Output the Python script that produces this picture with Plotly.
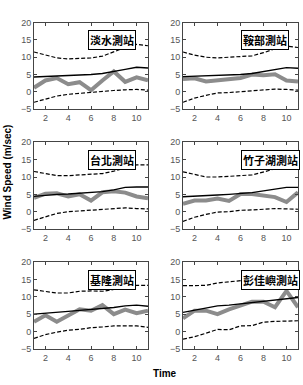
import plotly.graph_objects as go

x_time = [1, 2, 3, 4, 5, 6, 7, 8, 9, 10, 11]
stations = ["淡水測站", "鞍部測站", "台北測站", "竹子湖測站", "基隆測站", "彭佳嶼測站"]

upper = [
    [11.5, 10.7, 9.8, 9.5, 9.7, 9.8, 10.3, 11.5, 12.8, 13.7, 13.3],
    [11.5, 10.6, 10.0, 9.8, 10.0, 10.1, 10.4, 11.3, 12.4, 13.2, 12.8],
    [11.6, 11.0, 10.4, 10.4, 10.6, 10.6, 11.0, 11.7, 12.7, 13.5, 13.5],
    [11.5, 10.7, 10.0, 10.0, 10.3, 10.4, 10.6, 11.5, 12.5, 13.2, 12.9],
    [12.0, 11.5, 11.1, 11.1, 11.6, 11.7, 11.6, 12.1, 12.8, 13.3, 13.3],
    [13.2, 13.2, 13.3, 14.0, 14.3, 14.6, 14.9, 15.2, 15.6, 16.0, 16.3],
]
mean = [
    [4.3, 4.4, 4.5, 4.6, 4.8, 5.0, 5.3, 5.8, 6.5, 7.1, 6.9],
    [4.4, 4.5, 4.6, 4.7, 4.9, 5.0, 5.3, 5.9, 6.6, 7.0, 6.8],
    [4.4, 4.8, 5.0, 5.1, 5.3, 5.5, 5.8, 6.3, 7.0, 7.1, 7.1],
    [4.3, 4.4, 4.6, 4.8, 5.0, 5.2, 5.5, 6.0, 6.6, 7.0, 7.0],
    [5.0, 5.2, 5.5, 5.8, 6.1, 6.3, 6.6, 6.9, 7.4, 7.6, 7.3],
    [5.5, 6.1, 6.8, 7.4, 7.6, 8.0, 8.3, 8.7, 9.0, 9.5, 9.8],
]
lower = [
    [-3.0, -2.0, -1.2, -0.7, -0.4, 0.0, 0.2, 0.4, 0.6, 0.7, 0.5],
    [-3.0, -1.8, -1.0, -0.3, -0.2, 0.1, 0.3, 0.7, 0.8, 0.7, 0.5],
    [-2.5, -1.5, -0.5, 0.0, 0.2, 0.5, 0.7, 1.0, 1.1, 0.9, 0.8],
    [-2.8, -1.6, -0.8, -0.1, 0.0, 0.4, 0.5, 0.8, 0.9, 0.8, 0.7],
    [-2.0, -0.9, -0.2, 0.4, 0.6, 1.1, 1.3, 1.6, 1.6, 1.6, 1.2],
    [-2.2, -1.5, -0.5, 0.6, 0.5, 1.6, 1.7, 2.7, 2.9, 3.1, 3.1],
]
observed = [
    [1.2, 3.3, 4.0, 2.2, 2.8, 0.5, 3.3, 5.9, 2.9, 4.2, 3.3],
    [3.7, 3.9, 3.0, 3.3, 3.7, 4.0, 5.0, 4.8, 5.1, 3.3, 3.0],
    [4.0, 5.2, 5.3, 4.4, 5.0, 3.2, 5.6, 5.9, 5.5, 4.4, 3.9],
    [2.3, 3.2, 3.2, 3.8, 3.1, 5.1, 5.1, 4.6, 4.2, 2.8, 5.6],
    [2.8, 4.7, 2.8, 4.6, 6.4, 6.0, 7.6, 5.0, 6.3, 5.3, 6.0],
    [3.8, 6.0, 6.0, 5.0, 6.4, 7.4, 8.6, 8.6, 7.0, 11.7, 7.0],
]
x_ticks = [2, 4, 6, 8, 10]
y_ticks = [-5, 0, 5, 10, 15, 20]

W, H = 303, 385
col_px = [(34, 148), (183, 298)]
row_px = [(18, 107), (141, 230), (264, 353)]

fig = go.Figure()
for i in range(6):
    r, c = divmod(i, 2)
    n = "" if i == 0 else str(i + 1)
    xa, ya = "x" + n, "y" + n
    fig.add_trace(go.Scatter(x=x_time, y=observed[i], mode="lines", xaxis=xa, yaxis=ya,
                             line=dict(color="#8c8c8c", width=4), showlegend=False))
    fig.add_trace(go.Scatter(x=x_time, y=upper[i], mode="lines", xaxis=xa, yaxis=ya,
                             line=dict(color="black", width=1.2, dash="4px,2px"), showlegend=False))
    fig.add_trace(go.Scatter(x=x_time, y=lower[i], mode="lines", xaxis=xa, yaxis=ya,
                             line=dict(color="black", width=1.2, dash="4px,2px"), showlegend=False))
    fig.add_trace(go.Scatter(x=x_time, y=mean[i], mode="lines", xaxis=xa, yaxis=ya,
                             line=dict(color="black", width=1.4), showlegend=False))
    x0, x1 = col_px[c]
    y0, y1 = row_px[r]
    axstyle = dict(showline=True, mirror="ticks", linecolor="#444", linewidth=1,
                   ticks="inside", ticklen=3, tickcolor="#444", showgrid=False, zeroline=False,
                   tickfont=dict(family="Liberation Sans, Arial", size=9, color="#555"))
    fig.update_layout({
        ("xaxis" + n): dict(domain=[x0 / W, x1 / W], range=[1, 11], tickvals=x_ticks,
                            anchor=ya, **axstyle),
        ("yaxis" + n): dict(domain=[1 - y1 / H, 1 - y0 / H], range=[-5, 20], tickvals=y_ticks,
                            anchor=xa, **axstyle),
    })
    fig.add_annotation(xref=xa + " domain", yref=ya + " domain",
                       x=0.47 if c == 0 else 0.5, y=1 - 8 / 89, xanchor="left", yanchor="top",
                       text="<b>" + stations[i] + "</b>", showarrow=False,
                       font=dict(family="Noto Sans CJK TC", size=11, color="black"),
                       bgcolor="white", bordercolor="black", borderwidth=1, borderpad=1)

fig.add_annotation(xref="paper", yref="paper", x=8 / W, y=1 - 172 / H, text="<b>Wind Speed (m/sec)</b>",
                   textangle=-90, showarrow=False, xanchor="center", yanchor="middle",
                   font=dict(family="Liberation Sans, Arial", size=10, color="black"))
fig.add_annotation(xref="paper", yref="paper", x=165 / W, y=1 - 378 / H, text="<b>Time</b>",
                   showarrow=False, xanchor="center", yanchor="middle",
                   font=dict(family="Liberation Sans, Arial", size=10, color="black"))

fig.update_layout(width=W, height=H, margin=dict(l=0, r=0, t=0, b=0),
                  paper_bgcolor="white", plot_bgcolor="white")
fig.write_html("out.html")
